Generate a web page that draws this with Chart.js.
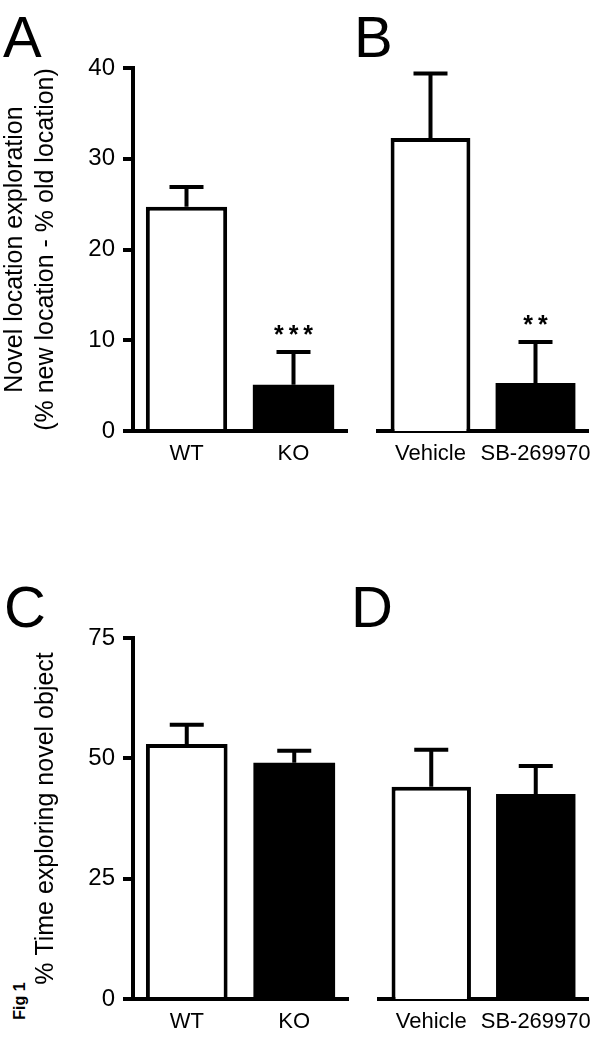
<!DOCTYPE html>
<html><head><meta charset="utf-8">
<script src="https://cdn.jsdelivr.net/npm/chart.js@4.4.0/dist/chart.umd.min.js"></script>
<style>
html,body{margin:0;padding:0;background:#fff}
body{width:608px;height:1037px;position:relative;overflow:hidden;font-family:"Liberation Sans",Arial,sans-serif;color:#000}
.box{position:absolute}
.box canvas{display:block}
.letter{position:absolute;font-size:58px;line-height:1;white-space:nowrap}
.fig{position:absolute;font-size:16px;font-weight:bold;line-height:1;white-space:nowrap;transform:translate(-50%,-50%) rotate(-90deg);left:20px;top:1001px}
</style></head><body>
<div class="letter" style="left:3px;top:8px">A</div>
<div class="letter" style="left:354px;top:8px">B</div>
<div class="letter" style="left:4px;top:578px">C</div>
<div class="letter" style="left:351px;top:578px">D</div>
<div class="fig">Fig 1</div>
<div class="box" style="left:0;top:0;width:350px;height:480px"><canvas id="pA" width="350" height="480"></canvas></div>
<div class="box" style="left:350px;top:0;width:258px;height:480px"><canvas id="pB" width="258" height="480"></canvas></div>
<div class="box" style="left:0;top:560px;width:350px;height:477px"><canvas id="pC" width="350" height="477"></canvas></div>
<div class="box" style="left:350px;top:560px;width:258px;height:477px"><canvas id="pD" width="258" height="477"></canvas></div>
<script>
// ---- data ----
const genotypeGroups = ['WT', 'KO'];
const drugGroups = ['Vehicle', 'SB-269970'];

const locationGenotypeMean = [24.7, 5.1];
const locationGenotypeSEM = [2.2, 3.6];
const locationGenotypeSig = ['', '***'];

const locationDrugMean = [32.3, 5.3];
const locationDrugSEM = [7.1, 4.5];
const locationDrugSig = ['', '**'];

const objectGenotypeMean = [53.0, 49.1];
const objectGenotypeSEM = [4.0, 2.5];
const objectGenotypeSig = ['', ''];

const objectDrugMean = [44.1, 42.6];
const objectDrugSEM = [7.7, 5.8];
const objectDrugSig = ['', ''];

const locationTicks = [0, 10, 20, 30, 40];
const objectTicks = [0, 25, 50, 75];

const locationTitle = ['Novel location exploration', '(% new location - % old location)'];
const objectTitle = '% Time exploring novel object';

const barFills = ['#ffffff', '#000000'];
const FONT = '"Liberation Sans", Arial, sans-serif';
const LW = 4;

const errPlugin = {
  id: 'errbars',
  afterDatasetsDraw(chart) {
    const ctx = chart.ctx;
    const ds = chart.data.datasets[0];
    const meta = chart.getDatasetMeta(0);
    const ys = chart.scales.y;
    ctx.save();
    ctx.strokeStyle = '#000';
    ctx.lineWidth = LW;
    ctx.lineCap = 'butt';
    meta.data.forEach((bar, i) => {
      const base = ys.getPixelForValue(ds.data[i]);
      const top = ys.getPixelForValue(ds.data[i] + ds.sem[i]);
      ctx.beginPath();
      ctx.moveTo(bar.x, base);
      ctx.lineTo(bar.x, top);
      ctx.moveTo(bar.x - 17, top);
      ctx.lineTo(bar.x + 17, top);
      ctx.stroke();
      const s = ds.sig[i];
      if (s) {
        ctx.fillStyle = '#000';
        ctx.font = 'bold 25px ' + FONT;
        ctx.textAlign = 'center';
        ctx.textBaseline = 'alphabetic';
        try { ctx.letterSpacing = '5px'; } catch (e) {}
        ctx.fillText(s, bar.x + 2.5, top - 9);
      }
    });
    ctx.restore();
  }
};

function panel(id, cats, means, sems, sig, o) {
  return new Chart(document.getElementById(id), {
    type: 'bar',
    data: {
      labels: cats,
      datasets: [{
        data: means, sem: sems, sig: sig,
        backgroundColor: barFills,
        borderColor: '#000',
        borderWidth: [LW, 0],
        borderSkipped: 'start',
        barPercentage: 0.76,
        categoryPercentage: 1
      }]
    },
    options: {
      responsive: false,
      animation: false,
      devicePixelRatio: 1,
      layout: { padding: o.pad },
      plugins: { legend: { display: false }, tooltip: { enabled: false } },
      scales: {
        x: {
          grid: { display: true, drawOnChartArea: false, drawTicks: false },
          border: { display: true, color: '#000', width: LW },
          ticks: { color: '#000', font: { family: FONT, size: 22 }, padding: 10, maxRotation: 0, minRotation: 0, autoSkip: false },
          afterFit(s) { s.height = o.xh; }
        },
        y: {
          display: o.showY,
          min: 0, max: o.max,
          afterBuildTicks(s) { s.ticks = o.ticks.map(v => ({ value: v })); },
          grid: { display: true, drawOnChartArea: false, drawTicks: true, tickLength: 10, color: '#000', lineWidth: LW },
          border: { display: true, color: '#000', width: LW },
          ticks: { color: '#000', font: { family: FONT, size: 24 }, padding: 8, callback: v => String(v) },
          title: { display: !!o.title, text: o.title, color: '#000', font: { family: FONT, size: 25, lineHeight: 1.24 }, padding: { top: o.titlePad, bottom: 0 } },
          afterFit(s) { s.width = o.yw; }
        }
      }
    },
    plugins: [errPlugin]
  });
}

panel('pA', genotypeGroups, locationGenotypeMean, locationGenotypeSEM, locationGenotypeSig,
  { pad: { left: 0, right: 3, top: 68, bottom: 0 }, xh: 49, showY: true, max: 40, ticks: locationTicks, title: locationTitle, titlePad: 0, yw: 133 });
panel('pB', drugGroups, locationDrugMean, locationDrugSEM, locationDrugSig,
  { pad: { left: 28, right: 20, top: 68, bottom: 0 }, xh: 49, showY: false, max: 40, ticks: locationTicks, title: null, titlePad: 0, yw: 0 });
panel('pC', genotypeGroups, objectGenotypeMean, objectGenotypeSEM, objectGenotypeSig,
  { pad: { left: 0, right: 2, top: 78, bottom: 0 }, xh: 38, showY: true, max: 75, ticks: objectTicks, title: objectTitle, titlePad: 31, yw: 133 });
panel('pD', drugGroups, objectDrugMean, objectDrugSEM, objectDrugSig,
  { pad: { left: 29, right: 20, top: 78, bottom: 0 }, xh: 38, showY: false, max: 75, ticks: objectTicks, title: null, titlePad: 0, yw: 0 });
</script>
</body></html>
